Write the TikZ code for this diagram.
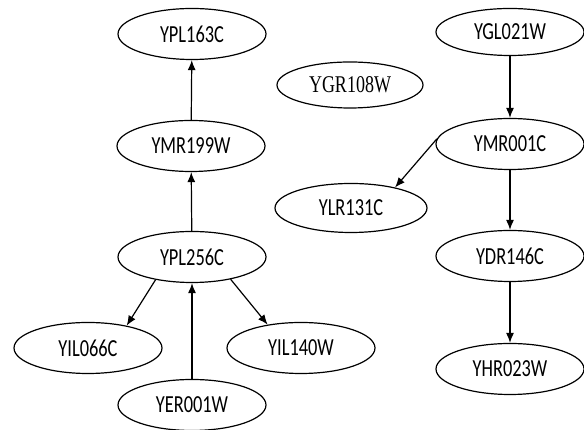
\documentclass[tikz,border=0pt]{standalone}
\usepackage{fontspec}
\usetikzlibrary{shapes.geometric,arrows.meta}
\newfontfamily\genefont[FakeStretch=0.75]{Carlito}
\newfontfamily\genefontserif[FakeStretch=0.75]{Liberation Serif}
\tikzset{
  gene/.style={draw,line width=1.2pt,ellipse,inner sep=0pt,minimum width=148pt,minimum height=51pt,font=\genefont\fontsize{24.5}{26}\selectfont},
  link/.style={line width=1.2pt,-{Latex[length=10pt,width=8pt]}}
}
\begin{document}
\begin{tikzpicture}[x=1pt,y=1pt]
\useasboundingbox (0,0) rectangle (584,430);
% left component
\node[gene] (ypl163c) at (192,396) {YPL163C};
\node[gene] (ymr199w) at (191,284) {YMR199W};
\node[gene] (ypl256c) at (192,173) {YPL256C};
\node[gene] (yil066c) at (88,82) {YIL066C};
\node[gene] (yil140w) at (301,82) {YIL140W};
\node[gene] (yer001w) at (192,25) {YER001W};
% isolated
\node[gene,minimum width=146pt,minimum height=46pt,font=\genefontserif\fontsize{24}{26}\selectfont] (ygr108w) at (350,345) {YGR108W};
% right component
\node[gene,minimum height=47pt] (ygl021w) at (510,398) {YGL021W};
\node[gene] (ymr001c) at (510,286) {YMR001C};
\node[gene,minimum width=152pt,minimum height=49pt] (ylr131c) at (351,222) {YLR131C};
\node[gene] (ydr146c) at (510,174) {YDR146C};
\node[gene] (yhr023w) at (510,61) {YHR023W};
\draw[link] (ymr199w) -- (ypl163c);
\draw[link] (ypl256c) -- (ymr199w);
\draw[link] (ypl256c.-148) -- (yil066c.30);
\draw[link] (ypl256c.-30) -- (yil140w.145);
\draw[link] (yer001w) -- (ypl256c);
\draw[link] (ygl021w) -- (ymr001c);
\draw[link] (ymr001c.176) -- (ylr131c.25);
\draw[link] (ymr001c) -- (ydr146c);
\draw[link] (ydr146c) -- (yhr023w);
\end{tikzpicture}
\end{document}
